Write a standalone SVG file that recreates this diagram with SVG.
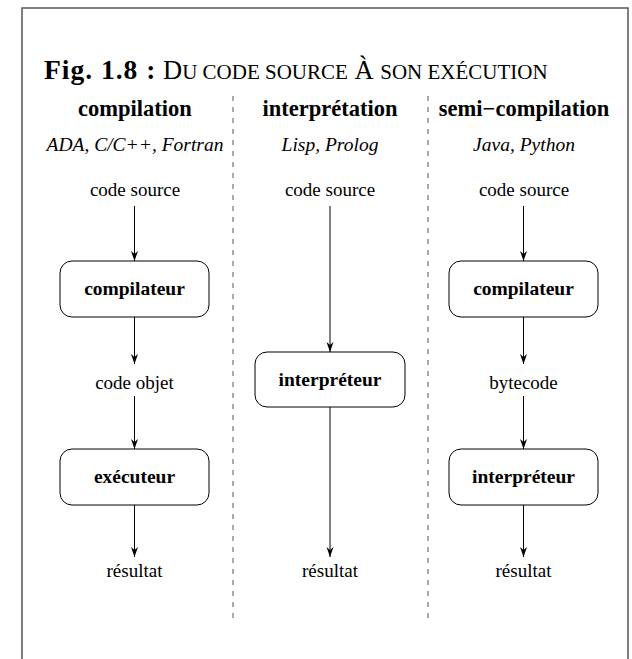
<svg xmlns="http://www.w3.org/2000/svg" width="632" height="659" viewBox="0 0 632 659" font-family="'Liberation Serif', 'Times New Roman', serif">
<defs>
<marker id="ah" markerWidth="10" markerHeight="12" refX="10" refY="6" orient="auto" markerUnits="userSpaceOnUse">
<path d="M0,2.5 L10,6 L0,9.5 L3,6 Z" fill="#000"/>
</marker>
<style>
text{font-family:'Liberation Serif',serif;fill:#000;text-anchor:middle}
.h{font-weight:bold;font-size:22.5px}
.i{font-style:italic;font-size:19.5px}
.t{font-size:19px}
.b{font-weight:bold;font-size:19.5px}
.box{fill:#fff;stroke:#000;stroke-width:1}
.arr{stroke:#000;stroke-width:1;fill:none;marker-end:url(#ah)}
.sep{stroke:#555;stroke-width:1;stroke-dasharray:5,6}
</style>
</defs>
<rect x="22" y="8" width="606" height="700" fill="#fff" stroke="#555" stroke-width="1.5"/>
<text x="44" y="79" style="text-anchor:start;font-size:26.5px"><tspan font-weight="bold" font-size="27.5" letter-spacing="1">Fig. 1.8 :</tspan> D<tspan font-size="21">U CODE SOURCE</tspan> À <tspan font-size="21">SON EXÉCUTION</tspan></text>
<g id="separators">
<line class="sep" x1="233" y1="96" x2="233" y2="618"/>
<line class="sep" x1="428" y1="96" x2="428" y2="618"/>
</g>
<g id="col1-head"><text class="h" x="135" y="116">compilation</text><text class="i" x="135" y="151">ADA, C/C++, Fortran</text></g>
<g id="col2-head"><text class="h" x="330" y="116">interprétation</text><text class="i" x="330" y="151">Lisp, Prolog</text></g>
<g id="col3-head"><text class="h" x="524" y="116">semi−compilation</text><text class="i" x="524" y="151">Java, Python</text></g>
<g id="src1"><text class="t" x="135" y="196">code source</text></g>
<g id="src2"><text class="t" x="330" y="196">code source</text></g>
<g id="src3"><text class="t" x="524" y="196">code source</text></g>
<g id="compilateur1"><rect class="box" x="60" y="261" width="149" height="56" rx="12"/><text class="b" x="134.5" y="295">compilateur</text></g>
<g id="objet"><text class="t" x="134.5" y="389">code objet</text></g>
<g id="executeur"><rect class="box" x="60" y="449" width="149" height="56" rx="12"/><text class="b" x="134.5" y="483">exécuteur</text></g>
<g id="res1"><text class="t" x="134.5" y="577">résultat</text></g>
<g id="interpreteur2"><rect class="box" x="255" y="352" width="150" height="55" rx="12"/><text class="b" x="330" y="386">interpréteur</text></g>
<g id="res2"><text class="t" x="330" y="577">résultat</text></g>
<g id="compilateur3"><rect class="box" x="449" y="261" width="149" height="56" rx="12"/><text class="b" x="523.5" y="295">compilateur</text></g>
<g id="bytecode"><text class="t" x="523.5" y="389">bytecode</text></g>
<g id="interpreteur3"><rect class="box" x="449" y="449" width="149" height="56" rx="12"/><text class="b" x="523.5" y="483">interpréteur</text></g>
<g id="res3"><text class="t" x="523.5" y="577">résultat</text></g>
<g id="connectors">
<line class="arr" x1="134.5" y1="206" x2="134.5" y2="261"/>
<line class="arr" x1="134.5" y1="317" x2="134.5" y2="364"/>
<line class="arr" x1="134.5" y1="396" x2="134.5" y2="449"/>
<line class="arr" x1="134.5" y1="505" x2="134.5" y2="557"/>
<line class="arr" x1="330" y1="206" x2="330" y2="352"/>
<line class="arr" x1="330" y1="407" x2="330" y2="557"/>
<line class="arr" x1="523.5" y1="206" x2="523.5" y2="261"/>
<line class="arr" x1="523.5" y1="317" x2="523.5" y2="364"/>
<line class="arr" x1="523.5" y1="396" x2="523.5" y2="449"/>
<line class="arr" x1="523.5" y1="505" x2="523.5" y2="557"/>
</g>
</svg>
